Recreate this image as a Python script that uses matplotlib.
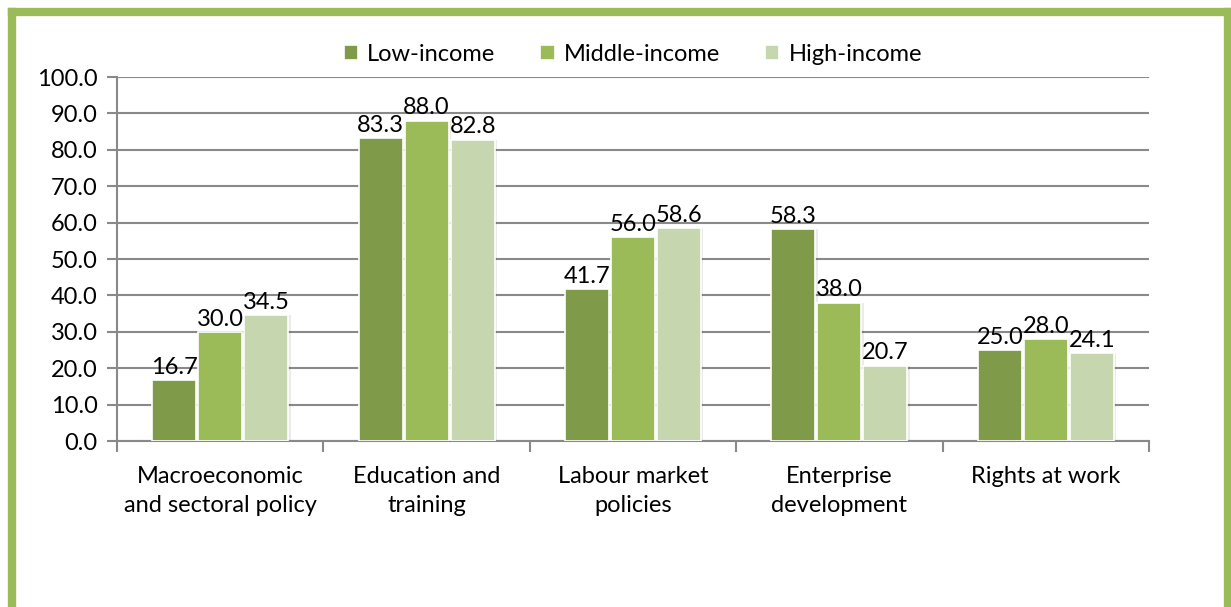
import matplotlib.pyplot as plt
import numpy as np
from matplotlib.lines import Line2D

plt.rcParams['font.family'] = ['Lato', 'DejaVu Sans']

categories = ["Macroeconomic\nand sectoral policy", "Education and\ntraining",
              "Labour market\npolicies", "Enterprise\ndevelopment", "Rights at work"]
low_income = [16.7, 83.3, 41.7, 58.3, 25.0]
middle_income = [30.0, 88.0, 56.0, 38.0, 28.0]
high_income = [34.5, 82.8, 58.6, 20.7, 24.1]
series_names = ["Low-income", "Middle-income", "High-income"]
colors = ["#7F9A48", "#9BBB59", "#C6D7AF"]

W, H = 1231, 607
fig = plt.figure(figsize=(W / 100, H / 100), dpi=100)
ax = fig.add_axes([117 / W, (H - 441) / H, (1149 - 117) / W, (441 - 77) / H])

# green frame round the chart (open at the bottom)
fc = "#9BBB59"
lw = 6
for xs, ys in [([12 / W, 12 / W], [0, 1 - 12 / H]),
               ([12 / W, 1228 / W], [1 - 12 / H, 1 - 12 / H]),
               ([1228 / W, 1228 / W], [0, 1 - 12 / H])]:
    fig.add_artist(Line2D(xs, ys, transform=fig.transFigure, color=fc,
                          linewidth=lw, solid_capstyle="projecting"))

fs = 17
x = np.arange(len(categories))
offset = 0.223
width = 0.213
for i, (vals, name, col) in enumerate(zip([low_income, middle_income, high_income],
                                          series_names, colors)):
    pos = x + (i - 1) * offset
    # soft shadow behind each bar
    ax.bar(pos + 0.012, vals, width=width, color="#000000", alpha=0.08,
           zorder=2, linewidth=0)
    ax.bar(pos, vals, width=width, color=col, edgecolor="white",
           linewidth=1.2, label=name, zorder=3)
    for p, v in zip(pos, vals):
        ax.text(p, v + 0.6, f"{v:.1f}", ha="center", va="bottom",
                fontsize=17, color="black", zorder=4)

ax.set_xlim(-0.5, 4.5)
ax.set_ylim(0, 100)
ax.set_yticks(np.arange(0, 101, 10))
ax.set_yticklabels([f"{v:.1f}" for v in np.arange(0, 101, 10)], fontsize=fs)
ax.yaxis.grid(True, color="#898989", linewidth=1.5, zorder=0)
ax.set_axisbelow(True)

ax.set_xticks(np.arange(-0.5, 5, 1))
ax.set_xticklabels([])
ax.set_xticks(x, minor=True)
ax.set_xticklabels(categories, minor=True, fontsize=fs, linespacing=1.45)
ax.tick_params(axis="x", which="minor", length=0, pad=18)
ax.tick_params(axis="x", which="major", length=8, width=1.5, color="#898989")
ax.tick_params(axis="y", length=7, width=1.5, color="#898989", pad=7)

for s in ["top", "right"]:
    ax.spines[s].set_visible(False)
for s in ["left", "bottom"]:
    ax.spines[s].set_color("#898989")
    ax.spines[s].set_linewidth(1.5)

ax.legend(loc="lower center", bbox_to_anchor=(0.5, 1.0), ncol=3, frameon=False,
          fontsize=fs, handlelength=0.6, handleheight=0.6, handletextpad=0.4,
          columnspacing=1.9, borderaxespad=0.1)

fig.savefig("out.png", dpi=100)
